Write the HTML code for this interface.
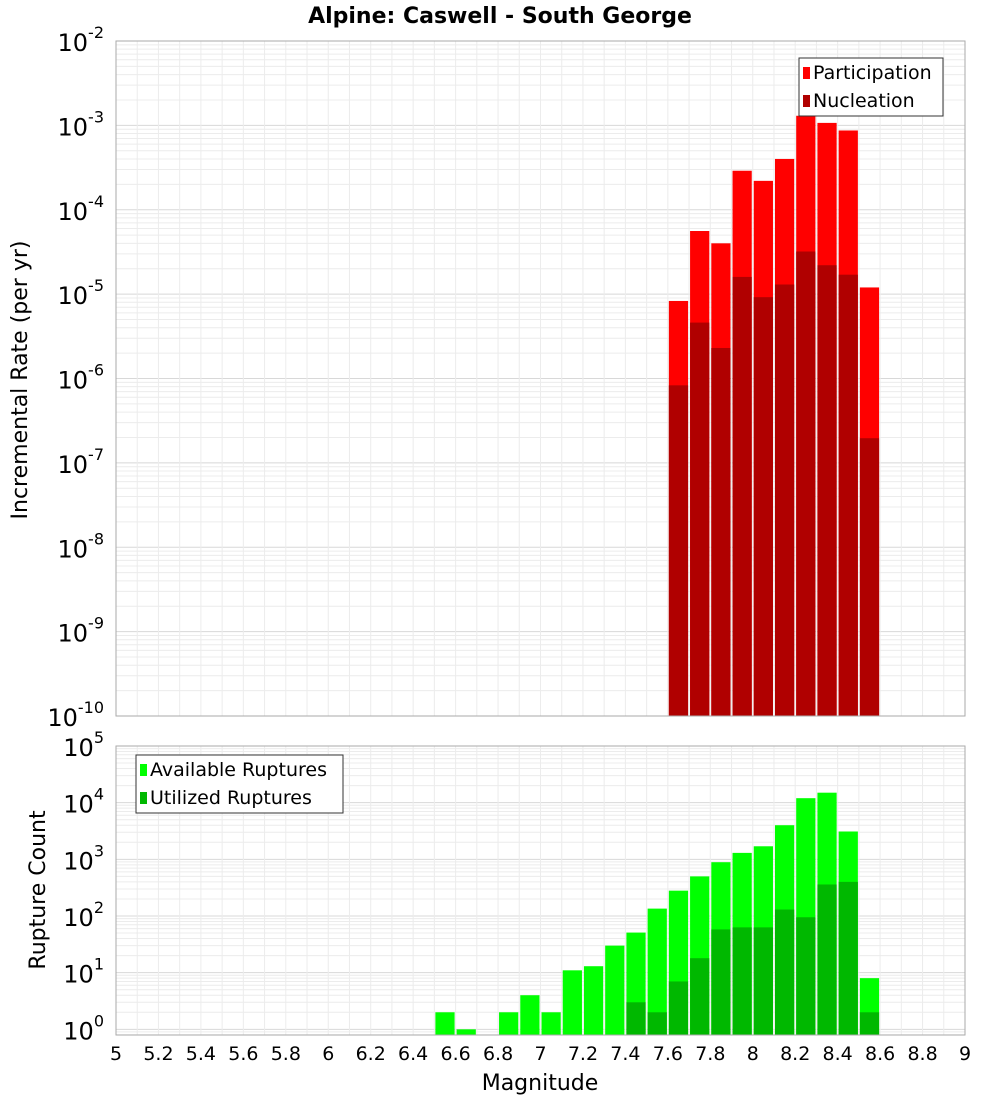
<!DOCTYPE html>
<html><head><meta charset="utf-8"><style>
body{margin:0;background:#fff;font-family:"Liberation Sans","DejaVu Sans",sans-serif;}
svg text{font-family:"DejaVu Sans","Liberation Sans",sans-serif;}
</style></head><body>
<svg id="c" width="1000" height="1100" xmlns="http://www.w3.org/2000/svg">
<text x="500" y="23" text-anchor="middle" font-size="22" font-weight="bold">Alpine: Caswell - South George</text>
<g id="top"></g><g id="bot"></g>
<text x="540" y="1090" text-anchor="middle" font-size="22">Magnitude</text>
<text transform="translate(27,380) rotate(-90)" text-anchor="middle" font-size="22">Incremental Rate (per yr)</text>
<text transform="translate(45,890) rotate(-90)" text-anchor="middle" font-size="22">Rupture Count</text>
</svg>
<script>
const topBins=[7.65,7.75,7.85,7.95,8.05,8.15,8.25,8.35,8.45,8.55];
const participation=[8.3e-6,5.6e-5,4e-5,2.9e-4,2.2e-4,4e-4,1.3e-3,1.07e-3,8.7e-4,1.2e-5];
const nucleation=[8.3e-7,4.6e-6,2.3e-6,1.6e-5,9.2e-6,1.3e-5,3.2e-5,2.2e-5,1.7e-5,1.96e-7];
const botBins=[6.55,6.65,6.75,6.85,6.95,7.05,7.15,7.25,7.35,7.45,7.55,7.65,7.75,7.85,7.95,8.05,8.15,8.25,8.35,8.45,8.55];
const available=[2,1,0,2,4,2,11,13,30,51,135,280,500,890,1300,1700,4000,12000,15000,3100,8];
const utilized=[0,0,0,0,0,0,0,0,0,3,2,7,18,58,63,63,130,95,360,400,2];
const xTicks=[5,5.2,5.4,5.6,5.8,6,6.2,6.4,6.6,6.8,7,7.2,7.4,7.6,7.8,8,8.2,8.4,8.6,8.8,9];
const topExps=[-10,-9,-8,-7,-6,-5,-4,-3,-2];
const botExps=[0,1,2,3,4,5];
const NS="http://www.w3.org/2000/svg";
const X0=116,X1=965;
const xs=v=>X0+(v-5)/4*(X1-X0);
function mk(p,t,a){const e=document.createElementNS(NS,t);for(const k in a)e.setAttribute(k,a[k]);p.appendChild(e);return e;}
function panel(g,top,bottom,lmin,lmax,exps,bins,series,colors,names,legend,legendNames){
  const ys=v=>bottom-(Math.log10(v)-lmin)/(lmax-lmin)*(bottom-top);
  // grid
  for(let d=Math.floor(lmin);d<lmax;d++)for(let m=1;m<10;m++){const v=m*Math.pow(10,d);const l=Math.log10(v);if(l<lmin||l>lmax)continue;
    const gl=mk(g,'line',{x1:X0,x2:X1,y1:ys(v),y2:ys(v),stroke:m==1?'#d8d8d8':'#ececec','stroke-width':1});
    
    }
  for(let v=5;v<=9.001;v+=0.1){const gl=mk(g,'line',{x1:xs(v),x2:xs(v),y1:top,y2:bottom,stroke:'#ececec','stroke-width':1});
    
    }
  series.forEach((s,si)=>{bins.forEach((b,i)=>{if(!(s[i]>0))return;const y=ys(s[i]);
    const r=mk(g,'rect',{x:xs(b-0.05)+1,y:y,width:xs(b+0.05)-xs(b-0.05)-2,height:bottom-y,fill:colors[si]});
    
    });});
  const f=mk(g,'rect',{x:X0,y:top,width:X1-X0,height:bottom-top,fill:'none',stroke:'#aaa'});
  
  
  exps.forEach(e=>{const t=mk(g,'text',{x:104,y:ys(Math.pow(10,e))+10,'text-anchor':'end','font-size':24});
    
    
    t.textContent='10';const s=mk(t,'tspan',{dy:-13,'font-size':16});s.textContent=e;});
  const [lx,ly,lw]=legend;
  const lb=mk(g,'rect',{x:lx,y:ly,width:lw,height:58,fill:'#fff',stroke:'#333'});
  
  
  legendNames.forEach((n,i)=>{mk(g,'rect',{x:lx+4,y:ly+9+i*28,width:7,height:12,fill:colors[i]});
    const t=mk(g,'text',{x:lx+14,y:ly+21+i*28,'font-size':19});
    
    
    t.textContent=n;});
}
panel(document.getElementById('top'),41,716,-10,-2,topExps,topBins,[participation,nucleation],['#ff0000','#b00000'],['participation','nucleation'],[799,58,144],['Participation','Nucleation']);
panel(document.getElementById('bot'),746,1035,-0.1,5,botExps,botBins,[available,utilized],['#00ff00','#00b800'],['available','utilized'],[136,755,207],['Available Ruptures','Utilized Ruptures']);
const svg=document.getElementById('c');
xTicks.forEach(v=>{const t=mk(svg,'text',{x:xs(v),y:1060,'text-anchor':'middle','font-size':19});
  
  
  t.textContent=String(v);});
</script>
</body></html>
